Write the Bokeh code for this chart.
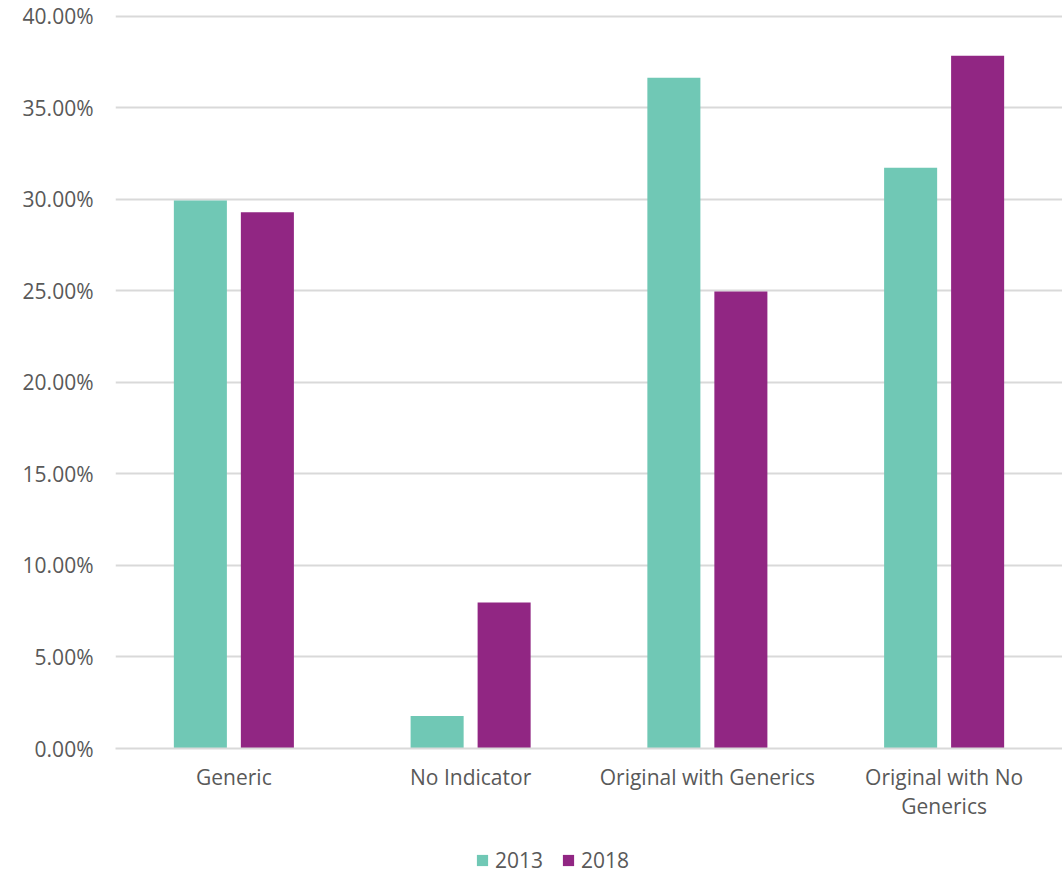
from bokeh.plotting import figure
from bokeh.layouts import column
from bokeh.models import (ColumnDataSource, NumeralTickFormatter, Legend, LegendItem,
                          Range1d, LinearAxis, FixedTicker)
from bokeh.transform import dodge
from bokeh.embed import file_html
from bokeh.resources import INLINE

categories = ["Generic", "No Indicator", "Original with Generics", "Original with No Generics"]
label_line1 = ["Generic", "No Indicator", "Original with Generics", "Original with No"]
label_line2 = ["", "", "", "Generics"]
series_names = ["2013", "2018"]
values_2013 = [0.2993, 0.0177, 0.3664, 0.3172]
values_2018 = [0.2929, 0.0798, 0.2497, 0.3784]
y_ticks = [0.0, 0.05, 0.10, 0.15, 0.20, 0.25, 0.30, 0.35, 0.40]

TEAL = "#70C8B5"
PURPLE = "#912683"
FONT = "Open Sans"
TXT = "#595959"
GRID = "#D9D9D9"

pos = [i + 0.5 for i in range(len(categories))]
src = ColumnDataSource(dict(pos=pos, cat=categories, v2013=values_2013, v2018=values_2018))

p = figure(x_range=Range1d(0, len(categories)), y_range=(0, 0.4015),
           width=1062, height=830, output_backend="svg", toolbar_location=None,
           min_border_left=115, min_border_right=0, min_border_top=13, min_border_bottom=82,
           outline_line_color=None, x_axis_location=None)

r1 = p.vbar(x=dodge("pos", -0.1415), top="v2013", width=0.224, source=src,
            fill_color=TEAL, line_color=None)
r2 = p.vbar(x=dodge("pos", 0.1415), top="v2018", width=0.224, source=src,
            fill_color=PURPLE, line_color=None)

p.yaxis.ticker = y_ticks
p.yaxis.formatter = NumeralTickFormatter(format="0.00%")
p.yaxis.axis_line_color = None
p.yaxis.major_tick_line_color = None
p.yaxis.minor_tick_line_color = None
p.yaxis.major_tick_out = 0
p.yaxis.major_label_standoff = 22
p.yaxis.major_label_text_font = FONT
p.yaxis.major_label_text_font_size = "21px"
p.yaxis.major_label_text_color = TXT


def cat_axis(labels, standoff, line_color):
    ax = LinearAxis(ticker=FixedTicker(ticks=pos), axis_line_color=line_color, axis_line_width=2,
                    major_tick_line_color=None, minor_tick_line_color=None,
                    major_tick_out=0, major_tick_in=0, minor_tick_out=0, minor_tick_in=0,
                    major_label_standoff=standoff, major_label_text_font=FONT,
                    major_label_text_font_size="21px", major_label_text_color=TXT,
                    major_label_overrides={x: lab for x, lab in zip(pos, labels)})
    p.add_layout(ax, "below")
    return ax


cat_axis(label_line1, 14, GRID)
cat_axis(label_line2, -2, None)

p.xgrid.grid_line_color = None
p.ygrid.grid_line_color = GRID
p.ygrid.grid_line_width = 2

# legend strip (uses the same data source, kept outside its visible ranges)
lg = figure(x_range=(100, 101), y_range=(100, 101), width=1062, height=44, output_backend="svg",
            toolbar_location=None, x_axis_type=None, y_axis_type=None,
            min_border_left=115, min_border_right=0, min_border_top=0, min_border_bottom=0,
            outline_line_color=None)
lg.xgrid.grid_line_color = None
lg.ygrid.grid_line_color = None
l1 = lg.vbar(x="pos", top="v2013", width=0.224, source=src, fill_color=TEAL, line_color=None)
l2 = lg.vbar(x="pos", top="v2018", width=0.224, source=src, fill_color=PURPLE, line_color=None)
legend = Legend(items=[LegendItem(label=series_names[0], renderers=[l1]),
                       LegendItem(label=series_names[1], renderers=[l2])],
                orientation="horizontal", location=(360, 0),
                label_text_font=FONT, label_text_font_size="21px", label_text_color=TXT,
                glyph_width=14, glyph_height=14, spacing=18, label_standoff=6,
                border_line_color=None, background_fill_alpha=0, margin=0, padding=2)
lg.add_layout(legend, "center")

layout = column(p, lg, spacing=0)
open("out.html", "w").write(file_html(layout, INLINE))
